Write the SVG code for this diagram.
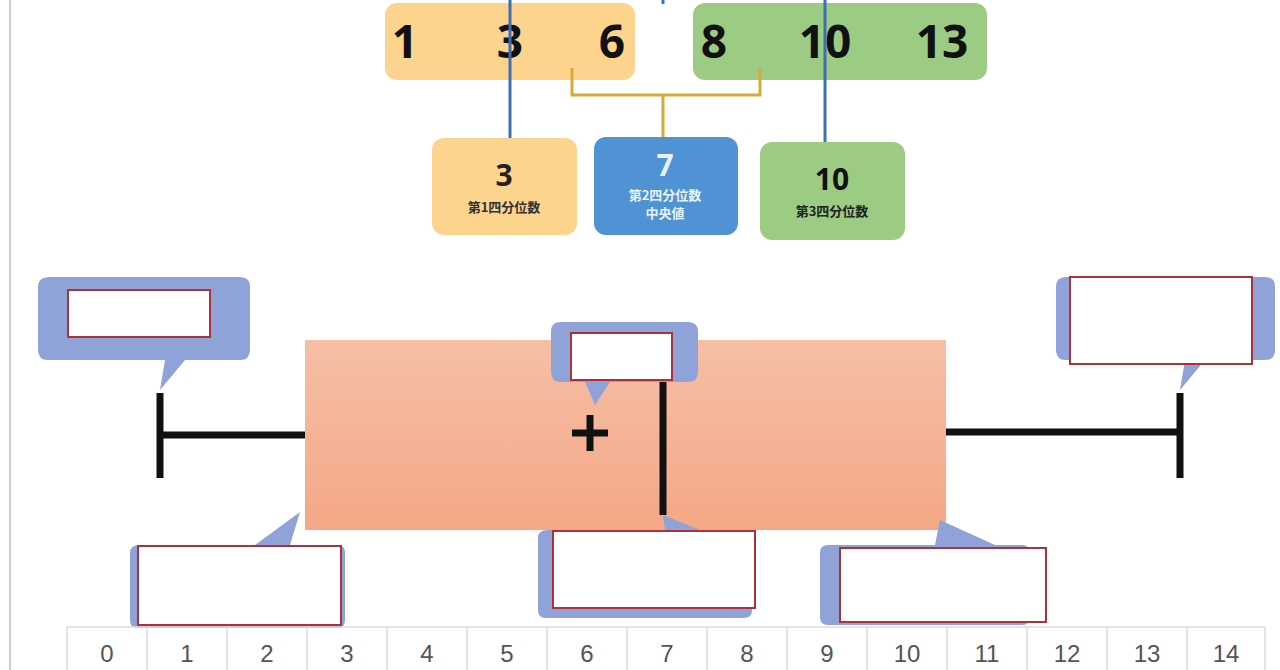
<svg xmlns="http://www.w3.org/2000/svg" width="1280" height="670" viewBox="0 0 1280 670">
<defs>
<style>
.num{font-family:"Noto Sans","DejaVu Sans",sans-serif;font-weight:bold;font-size:46px;fill:#111;text-anchor:middle}
.q{font-family:"Noto Sans","DejaVu Sans",sans-serif;font-weight:bold;text-anchor:middle}
.sub{font-family:"Noto Sans CJK JP",sans-serif;font-weight:bold;font-size:13px;text-anchor:middle}
.ax{font-family:"Liberation Sans",sans-serif;font-size:24px;fill:#555;text-anchor:middle}
.call{fill:#8fa3d8}
.inner{fill:#fff;stroke:#b0303a;stroke-width:2}
.wh{stroke:#111;stroke-width:7;fill:none}
</style>
<linearGradient id="g" x1="0" y1="0" x2="0" y2="1"><stop offset="0" stop-color="#f6bfa5"/><stop offset="1" stop-color="#f4a887"/></linearGradient>
</defs>
<rect width="1280" height="670" fill="#fff"/>
<line x1="10" y1="0" x2="10" y2="670" stroke="#ccc" stroke-width="2"/>
<g id="seq-low"><rect x="385" y="3" width="250" height="77" rx="12" fill="#fdd48e"/></g>
<g id="seq-high"><rect x="693" y="3" width="294" height="77" rx="12" fill="#9ccc83"/></g>
<g id="numbers">
<text class="num" x="405" y="58">1</text><text class="num" x="510" y="58">3</text><text class="num" x="612" y="58">6</text>
<text class="num" x="714" y="58">8</text><text class="num" x="825" y="58">10</text><text class="num" x="942" y="58">13</text>
</g>
<g id="connectors">
<line x1="510" y1="0" x2="510" y2="138" stroke="#3f6fb3" stroke-width="3"/>
<line x1="663" y1="0" x2="663" y2="4" stroke="#3f6fb3" stroke-width="3"/>
<line x1="825" y1="0" x2="825" y2="142" stroke="#3f6fb3" stroke-width="3"/>
<path d="M572 68 V95 H760 V68 M663 95 V137" stroke="#d9a93a" stroke-width="3" fill="none"/>
</g>
<g id="q1"><rect x="432" y="138" width="145" height="97" rx="12" fill="#fdd48e"/>
<text class="q" x="504" y="186" font-size="30" fill="#222">3</text><text class="sub" x="504" y="212" fill="#333">第1四分位数</text></g>
<g id="q2"><rect x="594" y="137" width="144" height="98" rx="12" fill="#4f93d4"/>
<text class="q" x="665" y="176" font-size="30" fill="#e8f2ff">7</text><text class="sub" x="665" y="200" fill="#e8f2ff">第2四分位数</text><text class="sub" x="665" y="218" fill="#e8f2ff">中央値</text></g>
<g id="q3"><rect x="760" y="142" width="145" height="98" rx="12" fill="#9ccc83"/>
<text class="q" x="832" y="190" font-size="30" fill="#111">10</text><text class="sub" x="832" y="216" fill="#222">第3四分位数</text></g>
<g id="callouts-bg">
<path class="call" d="M50 277 H240 Q250 277 250 287 V350 Q250 360 240 360 H185 L160 390 L165 360 H48 Q38 360 38 350 V287 Q38 277 50 277Z"/>
<path class="call" d="M1066 277 H1265 Q1275 277 1275 287 V350 Q1275 360 1265 360 H1205 L1180 390 L1185 360 H1066 Q1056 360 1056 350 V287 Q1056 277 1066 277Z"/>
</g>
<g id="box"><rect x="305" y="340" width="641" height="190" fill="url(#g)"/>
<line class="wh" x1="160" y1="435" x2="305" y2="435"/><line class="wh" x1="160" y1="393" x2="160" y2="478"/>
<line class="wh" x1="946" y1="432" x2="1180" y2="432"/><line class="wh" x1="1180" y1="393" x2="1180" y2="478"/>
<line class="wh" x1="663" y1="380" x2="663" y2="515"/>
<path class="wh" d="M590 415 V451 M572 433 H608" stroke-width="6"/>
</g>
<g id="callout-mid">
<path class="call" d="M560 322 H688 Q698 322 698 332 V372 Q698 382 688 382 H610 L595 405 L585 382 H561 Q551 382 551 372 V332 Q551 322 560 322Z"/>
</g>
<g id="callouts-bottom">
<path class="call" d="M140 545 H255 L300 512 L290 545 H337 Q345 545 345 553 V620 Q345 628 337 628 H138 Q130 628 130 620 V553 Q130 545 140 545Z"/>
<path class="call" d="M548 530 H665 L663 515 L700 530 H744 Q752 530 752 538 V610 Q752 618 744 618 H546 Q538 618 538 610 V538 Q538 530 548 530Z"/>
<path class="call" d="M828 545 H935 L940 520 L995 545 H1022 Q1030 545 1030 553 V617 Q1030 625 1022 625 H828 Q820 625 820 617 V553 Q820 545 828 545Z"/>
</g>
<g id="labels">
<rect class="inner" x="68" y="290" width="142" height="47"/>
<rect class="inner" x="571" y="333" width="101" height="47"/>
<rect class="inner" x="1070" y="277" width="182" height="87"/>
<rect class="inner" x="138" y="546" width="203" height="79"/>
<rect class="inner" x="553" y="531" width="202" height="77"/>
<rect class="inner" x="840" y="548" width="206" height="74"/>
</g>
<g id="axis" stroke="#ddd" stroke-width="1.5">
<path d="M67 627 H1265 M67 627 V670 M147 627 V670 M227 627 V670 M307 627 V670 M387 627 V670 M467 627 V670 M547 627 V670 M627 627 V670 M707 627 V670 M787 627 V670 M867 627 V670 M947 627 V670 M1027 627 V670 M1107 627 V670 M1187 627 V670 M1265 627 V670"/>
<g stroke="none">
<text class="ax" x="107" y="662">0</text><text class="ax" x="187" y="662">1</text><text class="ax" x="267" y="662">2</text><text class="ax" x="347" y="662">3</text><text class="ax" x="427" y="662">4</text><text class="ax" x="507" y="662">5</text><text class="ax" x="587" y="662">6</text><text class="ax" x="667" y="662">7</text><text class="ax" x="747" y="662">8</text><text class="ax" x="827" y="662">9</text><text class="ax" x="907" y="662">10</text><text class="ax" x="987" y="662">11</text><text class="ax" x="1067" y="662">12</text><text class="ax" x="1147" y="662">13</text><text class="ax" x="1226" y="662">14</text>
</g></g>
</svg>
